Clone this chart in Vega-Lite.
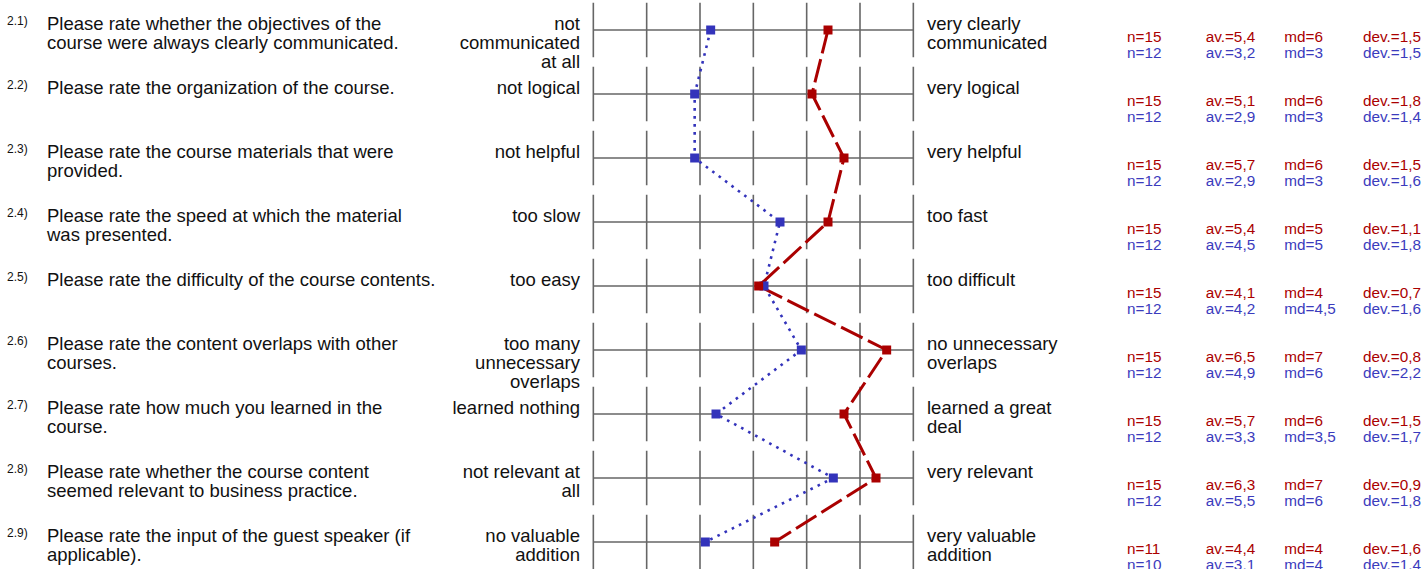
{
  "$schema": "https://vega.github.io/schema/vega-lite/v6.json",
  "padding": {"left": 7, "top": 0, "right": 0, "bottom": 0},
  "background": "white",
  "spacing": 0,
  "bounds": "flush",
  "config": {"view": {"stroke": null}, "text": {"font": "Liberation Sans"}},
  "datasets": {
    "items": [
      {"row": 1, "num": "2.1)", "question": "Please rate whether the objectives of the\ncourse were always clearly communicated.", "left": "not\ncommunicated\nat all", "right": "very clearly\ncommunicated"},
      {"row": 2, "num": "2.2)", "question": "Please rate the organization of the course.", "left": "not logical", "right": "very logical"},
      {"row": 3, "num": "2.3)", "question": "Please rate the course materials that were\nprovided.", "left": "not helpful", "right": "very helpful"},
      {"row": 4, "num": "2.4)", "question": "Please rate the speed at which the material\nwas presented.", "left": "too slow", "right": "too fast"},
      {"row": 5, "num": "2.5)", "question": "Please rate the difficulty of the course contents.", "left": "too easy", "right": "too difficult"},
      {"row": 6, "num": "2.6)", "question": "Please rate the content overlaps with other\ncourses.", "left": "too many\nunnecessary\noverlaps", "right": "no unnecessary\noverlaps"},
      {"row": 7, "num": "2.7)", "question": "Please rate how much you learned in the\ncourse.", "left": "learned nothing", "right": "learned a great\ndeal"},
      {"row": 8, "num": "2.8)", "question": "Please rate whether the course content\nseemed relevant to business practice.", "left": "not relevant at\nall", "right": "very relevant"},
      {"row": 9, "num": "2.9)", "question": "Please rate the input of the guest speaker (if\napplicable).", "left": "no valuable\naddition", "right": "very valuable\naddition"}
    ],
    "series": [
      {"row": 1, "group": "A", "mean": 5.4, "n": "n=15", "av": "av.=5,4", "md": "md=6", "dev": "dev.=1,5"},
      {"row": 1, "group": "B", "mean": 3.2, "n": "n=12", "av": "av.=3,2", "md": "md=3", "dev": "dev.=1,5"},
      {"row": 2, "group": "A", "mean": 5.1, "n": "n=15", "av": "av.=5,1", "md": "md=6", "dev": "dev.=1,8"},
      {"row": 2, "group": "B", "mean": 2.9, "n": "n=12", "av": "av.=2,9", "md": "md=3", "dev": "dev.=1,4"},
      {"row": 3, "group": "A", "mean": 5.7, "n": "n=15", "av": "av.=5,7", "md": "md=6", "dev": "dev.=1,5"},
      {"row": 3, "group": "B", "mean": 2.9, "n": "n=12", "av": "av.=2,9", "md": "md=3", "dev": "dev.=1,6"},
      {"row": 4, "group": "A", "mean": 5.4, "n": "n=15", "av": "av.=5,4", "md": "md=5", "dev": "dev.=1,1"},
      {"row": 4, "group": "B", "mean": 4.5, "n": "n=12", "av": "av.=4,5", "md": "md=5", "dev": "dev.=1,8"},
      {"row": 5, "group": "A", "mean": 4.1, "n": "n=15", "av": "av.=4,1", "md": "md=4", "dev": "dev.=0,7"},
      {"row": 5, "group": "B", "mean": 4.2, "n": "n=12", "av": "av.=4,2", "md": "md=4,5", "dev": "dev.=1,6"},
      {"row": 6, "group": "A", "mean": 6.5, "n": "n=15", "av": "av.=6,5", "md": "md=7", "dev": "dev.=0,8"},
      {"row": 6, "group": "B", "mean": 4.9, "n": "n=12", "av": "av.=4,9", "md": "md=6", "dev": "dev.=2,2"},
      {"row": 7, "group": "A", "mean": 5.7, "n": "n=15", "av": "av.=5,7", "md": "md=6", "dev": "dev.=1,5"},
      {"row": 7, "group": "B", "mean": 3.3, "n": "n=12", "av": "av.=3,3", "md": "md=3,5", "dev": "dev.=1,7"},
      {"row": 8, "group": "A", "mean": 6.3, "n": "n=15", "av": "av.=6,3", "md": "md=7", "dev": "dev.=0,9"},
      {"row": 8, "group": "B", "mean": 5.5, "n": "n=12", "av": "av.=5,5", "md": "md=6", "dev": "dev.=1,8"},
      {"row": 9, "group": "A", "mean": 4.4, "n": "n=11", "av": "av.=4,4", "md": "md=4", "dev": "dev.=1,6"},
      {"row": 9, "group": "B", "mean": 3.1, "n": "n=10", "av": "av.=3,1", "md": "md=4", "dev": "dev.=1,4"}
    ],
    "grid": [
      {"row": 1, "p": 1}, {"row": 1, "p": 2}, {"row": 1, "p": 3}, {"row": 1, "p": 4}, {"row": 1, "p": 5}, {"row": 1, "p": 6}, {"row": 1, "p": 7},
      {"row": 2, "p": 1}, {"row": 2, "p": 2}, {"row": 2, "p": 3}, {"row": 2, "p": 4}, {"row": 2, "p": 5}, {"row": 2, "p": 6}, {"row": 2, "p": 7},
      {"row": 3, "p": 1}, {"row": 3, "p": 2}, {"row": 3, "p": 3}, {"row": 3, "p": 4}, {"row": 3, "p": 5}, {"row": 3, "p": 6}, {"row": 3, "p": 7},
      {"row": 4, "p": 1}, {"row": 4, "p": 2}, {"row": 4, "p": 3}, {"row": 4, "p": 4}, {"row": 4, "p": 5}, {"row": 4, "p": 6}, {"row": 4, "p": 7},
      {"row": 5, "p": 1}, {"row": 5, "p": 2}, {"row": 5, "p": 3}, {"row": 5, "p": 4}, {"row": 5, "p": 5}, {"row": 5, "p": 6}, {"row": 5, "p": 7},
      {"row": 6, "p": 1}, {"row": 6, "p": 2}, {"row": 6, "p": 3}, {"row": 6, "p": 4}, {"row": 6, "p": 5}, {"row": 6, "p": 6}, {"row": 6, "p": 7},
      {"row": 7, "p": 1}, {"row": 7, "p": 2}, {"row": 7, "p": 3}, {"row": 7, "p": 4}, {"row": 7, "p": 5}, {"row": 7, "p": 6}, {"row": 7, "p": 7},
      {"row": 8, "p": 1}, {"row": 8, "p": 2}, {"row": 8, "p": 3}, {"row": 8, "p": 4}, {"row": 8, "p": 5}, {"row": 8, "p": 6}, {"row": 8, "p": 7},
      {"row": 9, "p": 1}, {"row": 9, "p": 2}, {"row": 9, "p": 3}, {"row": 9, "p": 4}, {"row": 9, "p": 5}, {"row": 9, "p": 6}, {"row": 9, "p": 7}
    ]
  },
  "hconcat": [
    {
      "width": 40,
      "height": 569,
      "data": {"name": "items"},
      "mark": {"type": "text", "align": "left", "baseline": "alphabetic", "fontSize": 12, "dy": -5, "color": "#111111"},
      "encoding": {
        "x": {"value": 0},
        "y": {"field": "row", "type": "quantitative", "scale": {"domain": [0.53125, 9.421875], "reverse": true, "nice": false, "zero": false}, "axis": null},
        "text": {"field": "num", "type": "nominal"}
      }
    },
    {
      "width": 400,
      "height": 569,
      "data": {"name": "items"},
      "mark": {"type": "text", "align": "left", "baseline": "alphabetic", "fontSize": 18.5, "lineBreak": "\n", "lineHeight": 19.4, "color": "#111111"},
      "encoding": {
        "x": {"value": 0},
        "y": {"field": "row", "type": "quantitative", "scale": {"domain": [0.53125, 9.421875], "reverse": true, "nice": false, "zero": false}, "axis": null},
        "text": {"field": "question", "type": "nominal"}
      }
    },
    {
      "width": 133,
      "height": 569,
      "data": {"name": "items"},
      "mark": {"type": "text", "align": "right", "baseline": "alphabetic", "fontSize": 18.5, "lineBreak": "\n", "lineHeight": 19.0, "color": "#111111"},
      "encoding": {
        "x": {"value": "width"},
        "y": {"field": "row", "type": "quantitative", "scale": {"domain": [0.53125, 9.421875], "reverse": true, "nice": false, "zero": false}, "axis": null},
        "text": {"field": "left", "type": "nominal"}
      }
    },
    {
      "width": 347,
      "height": 569,
      "layer": [
        {
          "data": {"name": "grid"},
          "mark": {"type": "tick", "orient": "vertical", "thickness": 1.6, "color": "#666666", "opacity": 1, "clip": true},
          "encoding": {
            "x": {"field": "p", "type": "quantitative", "scale": {"domain": [0.75, 7.25625], "nice": false, "zero": false}, "axis": null},
            "y": {"field": "row", "type": "quantitative", "scale": {"domain": [0.53125, 9.421875], "reverse": true, "nice": false, "zero": false}, "axis": null},
            "size": {"value": 54.5}
          }
        },
        {
          "data": {"name": "items"},
          "mark": {"type": "rule", "color": "#666666", "strokeWidth": 1.6},
          "encoding": {
            "x": {"datum": 1, "type": "quantitative", "scale": {"domain": [0.75, 7.25625], "nice": false, "zero": false}, "axis": null},
            "x2": {"datum": 7},
            "y": {"field": "row", "type": "quantitative", "scale": {"domain": [0.53125, 9.421875], "reverse": true, "nice": false, "zero": false}, "axis": null}
          }
        },
        {
          "data": {"name": "series"},
          "transform": [{"filter": "datum.group === 'B'"}],
          "mark": {"type": "line", "color": "#3333bb", "strokeWidth": 2.6, "strokeDash": [2.6, 5.4], "strokeCap": "butt"},
          "encoding": {
            "x": {"field": "mean", "type": "quantitative", "scale": {"domain": [0.75, 7.25625], "nice": false, "zero": false}, "axis": null},
            "y": {"field": "row", "type": "quantitative", "scale": {"domain": [0.53125, 9.421875], "reverse": true, "nice": false, "zero": false}, "axis": null},
            "order": {"field": "row", "type": "quantitative"}
          }
        },
        {
          "data": {"name": "series"},
          "transform": [{"filter": "datum.group === 'A'"}],
          "mark": {"type": "line", "color": "#aa0000", "strokeWidth": 3, "strokeDash": [24, 6], "strokeCap": "butt"},
          "encoding": {
            "x": {"field": "mean", "type": "quantitative", "scale": {"domain": [0.75, 7.25625], "nice": false, "zero": false}, "axis": null},
            "y": {"field": "row", "type": "quantitative", "scale": {"domain": [0.53125, 9.421875], "reverse": true, "nice": false, "zero": false}, "axis": null},
            "order": {"field": "row", "type": "quantitative"}
          }
        },
        {
          "data": {"name": "series"},
          "transform": [{"filter": "datum.group === 'B'"}],
          "mark": {"type": "point", "shape": "square", "filled": true, "opacity": 1, "size": 81, "color": "#3333bb"},
          "encoding": {
            "x": {"field": "mean", "type": "quantitative", "scale": {"domain": [0.75, 7.25625], "nice": false, "zero": false}, "axis": null},
            "y": {"field": "row", "type": "quantitative", "scale": {"domain": [0.53125, 9.421875], "reverse": true, "nice": false, "zero": false}, "axis": null}
          }
        },
        {
          "data": {"name": "series"},
          "transform": [{"filter": "datum.group === 'A'"}],
          "mark": {"type": "point", "shape": "square", "filled": true, "opacity": 1, "size": 81, "color": "#aa0000"},
          "encoding": {
            "x": {"field": "mean", "type": "quantitative", "scale": {"domain": [0.75, 7.25625], "nice": false, "zero": false}, "axis": null},
            "y": {"field": "row", "type": "quantitative", "scale": {"domain": [0.53125, 9.421875], "reverse": true, "nice": false, "zero": false}, "axis": null}
          }
        }
      ]
    },
    {
      "width": 200,
      "height": 569,
      "data": {"name": "items"},
      "mark": {"type": "text", "align": "left", "baseline": "alphabetic", "fontSize": 18.5, "lineBreak": "\n", "lineHeight": 19.3, "color": "#111111"},
      "encoding": {
        "x": {"value": 0},
        "y": {"field": "row", "type": "quantitative", "scale": {"domain": [0.53125, 9.421875], "reverse": true, "nice": false, "zero": false}, "axis": null},
        "text": {"field": "right", "type": "nominal"}
      }
    },
    {
      "width": 295,
      "height": 569,
      "data": {"name": "series"},
      "transform": [{"fold": ["n", "av", "md", "dev"], "as": ["stat", "label"]}],
      "layer": [
        {
          "transform": [{"filter": "datum.group === 'A'"}],
          "mark": {"type": "text", "align": "left", "baseline": "alphabetic", "fontSize": 15.3, "dy": 12, "color": "#aa0000", "clip": true},
          "encoding": {
            "x": {"field": "stat", "type": "nominal", "scale": {"type": "point", "domain": ["n", "av", "md", "dev"], "range": [0, 236], "padding": 0}, "axis": null},
            "y": {"field": "row", "type": "quantitative", "scale": {"domain": [0.53125, 9.421875], "reverse": true, "nice": false, "zero": false}, "axis": null},
            "text": {"field": "label", "type": "nominal"}
          }
        },
        {
          "transform": [{"filter": "datum.group === 'B'"}],
          "mark": {"type": "text", "align": "left", "baseline": "alphabetic", "fontSize": 15.3, "dy": 27.5, "color": "#3b3bbd", "clip": true},
          "encoding": {
            "x": {"field": "stat", "type": "nominal", "scale": {"type": "point", "domain": ["n", "av", "md", "dev"], "range": [0, 236], "padding": 0}, "axis": null},
            "y": {"field": "row", "type": "quantitative", "scale": {"domain": [0.53125, 9.421875], "reverse": true, "nice": false, "zero": false}, "axis": null},
            "text": {"field": "label", "type": "nominal"}
          }
        }
      ]
    }
  ]
}
